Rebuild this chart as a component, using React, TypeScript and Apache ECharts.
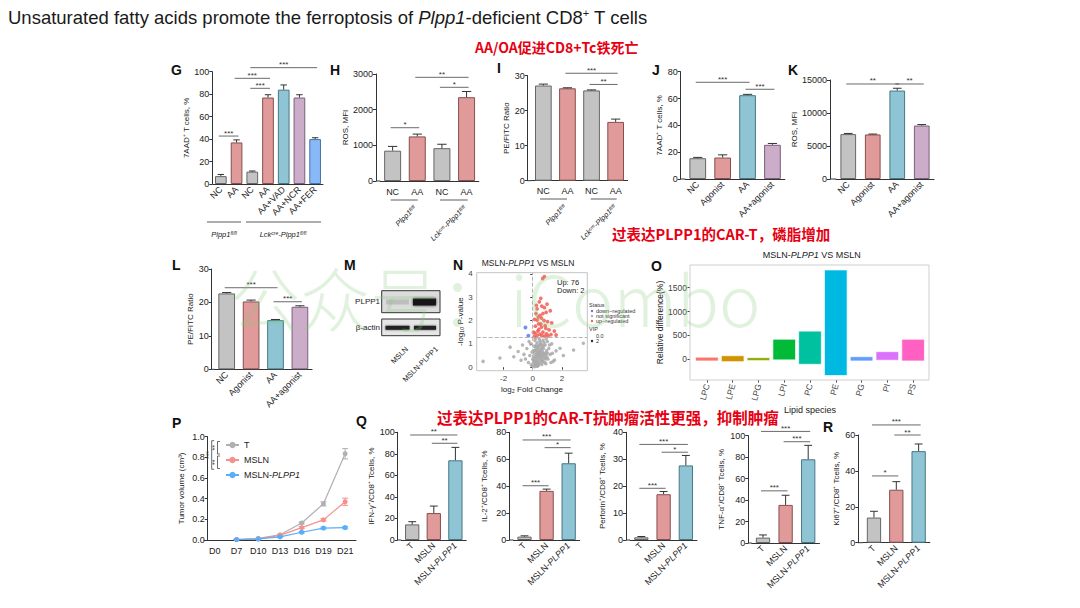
import React, { useEffect, useRef } from 'react';
import * as echarts from 'echarts';

const FONT = '"Liberation Sans", Arial, sans-serif';
const CJK = '"Noto Sans CJK SC", sans-serif';

// ---------------- data ----------------
// G
const gCategories = ['NC', 'AA', 'NC', 'AA', 'AA+VAD', 'AA+NCR', 'AA+FER'];
const gValues = [7, 37, 11, 77, 84, 77, 40];
const gErrors = [1.5, 2.3, 0.6, 2.5, 4.2, 2.5, 1.2];
const gSignif: [number, number, number, string][] = [[0, 1, 42.7, '***'], [2, 3, 85.2, '***'], [1, 3, 94.1, '***'], [2, 6, 103.6, '***']];
// H
const hCategories = ['NC', 'AA', 'NC', 'AA'];
const hValues = [850, 1250, 920, 2350];
const hErrors = [120, 65, 110, 160];
const hSignif: [number, number, number, string][] = [[0, 1, 1494, '*'], [2, 3, 2627, '*'], [1, 3, 2907, '**']];
// I
const iCategories = ['NC', 'AA', 'NC', 'AA'];
const iValues = [27.2, 26.4, 25.8, 16.8];
const iErrors = [0.4, 0.15, 0.15, 0.8];
const iSignif: [number, number, number, string][] = [[2, 3, 27.5, '**'], [1, 3, 30.7, '***']];
// J
const jCategories = ['NC', 'Agonist', 'AA', 'AA+agonist'];
const jValues = [15.5, 16, 62.5, 25.5];
const jErrors = [0.6, 2, 0.6, 1];
const jSignif: [number, number, number, string][] = [[0, 2, 72.1, '***'], [2, 3, 66.9, '***']];
// K
const kCategories = ['NC', 'Agonist', 'AA', 'AA+agonist'];
const kValues = [6800, 6750, 13400, 8100];
const kErrors = [100, 60, 350, 150];
const kSignif: [number, number, number, string][] = [[0, 2, 14394, '**'], [2, 3, 14394, '**']];
// L
const lCategories = ['NC', 'Agonist', 'AA', 'AA+agonist'];
const lValues = [22.7, 20.3, 14.7, 18.7];
const lErrors = [0.25, 0.4, 0.2, 0.3];
const lSignif: [number, number, number, string][] = [[0, 2, 24.4, '***'], [2, 3, 20.2, '***']];
// Q / R
const qCategories = ['T', 'MSLN', 'MSLN-PLPP1'];
const ifnValues = [14.5, 25, 74];
const ifnErrors = [2.5, 6.5, 12];
const ifnSignif: [number, number, number, string][] = [[0, 2, 97.5, '**'], [1, 2, 89.8, '**']];
const il2Values = [2.5, 36.5, 57];
const il2Errors = [0.6, 1.3, 7.5];
const il2Signif: [number, number, number, string][] = [[0, 1, 40.3, '***'], [0, 2, 74.3, '***'], [1, 2, 68.6, '*']];
const prfValues = [1.0, 17, 27.7];
const prfErrors = [0.3, 1, 3.7];
const prfSignif: [number, number, number, string][] = [[0, 1, 19.2, '***'], [0, 2, 35.5, '***'], [1, 2, 32.6, '*']];
const tnfValues = [5, 35.5, 78];
const tnfErrors = [2.5, 9, 13];
const tnfSignif: [number, number, number, string][] = [[0, 1, 48.6, '***'], [0, 2, 104, '***'], [1, 2, 94.4, '***']];
const ki67Values = [14, 29.5, 51];
const ki67Errors = [3.5, 4.5, 4];
const ki67Signif: [number, number, number, string][] = [[0, 1, 37.2, '*'], [0, 2, 65.6, '***'], [1, 2, 60, '**']];
// N volcano
const nNotSig: number[][] = [
  [-3.4, 0.25], [-2.25, 0.39], [-1.55, 0.86], [-1.0, 0.67], [-1.3, 0.45], [-0.8, 0.3], [-0.6, 0.55], [-0.4, 0.8],
  [-0.3, 0.2], [-0.2, 0.5], [-0.15, 1.0], [-0.1, 0.1], [0, 0.05], [0.05, 0.3], [0.1, 0.6], [0.1, 0.9], [0.15, 1.15],
  [0.2, 0.15], [0.2, 0.45], [0.25, 0.75], [0.3, 1.05], [0.3, 0.3], [0.35, 0.55], [0.4, 0.1], [0.4, 0.9], [0.45, 1.2],
  [0.45, 0.4], [0.5, 0.7], [0.55, 0.2], [0.55, 1.0], [0.6, 0.5], [0.65, 0.85], [0.7, 0.25], [0.7, 1.15], [0.75, 0.6],
  [0.8, 0.4], [0.85, 0.95], [0.9, 0.15], [0.95, 0.7], [1.0, 1.1], [1.05, 0.35], [1.1, 0.8], [1.2, 0.55], [1.3, 1.0],
  [1.4, 0.25], [1.5, 0.31], [1.6, 0.7], [1.87, 0.81], [2.1, 0.5], [2.8, 0.74], [3.47, 1.03], [0.0, 0.35], [0.05, 0.7],
  [0.12, 0.02], [0.22, 1.25], [0.28, 0.05], [0.33, 0.85], [0.38, 0.62], [0.42, 0.28], [0.48, 0.95], [0.52, 0.5],
  [0.58, 0.78], [0.62, 0.12], [0.68, 0.42], [0.72, 0.92], [0.78, 1.05], [0.82, 0.2], [0.88, 0.6], [0.92, 1.22],
  [0.97, 0.45], [1.15, 0.95], [1.25, 0.2], [1.35, 0.6], [-0.05, 0.65], [-0.25, 1.1], [-0.5, 0.35], [-0.7, 0.95],
  [0.18, 0.38], [0.26, 0.55], [0.36, 0.18], [0.46, 0.65], [0.56, 0.35], [0.66, 0.68], [0.15, 0.08], [0.25, 0.12],
  [0.32, 0.04], [0.22, 0.22], [0.3, 0.15], [0.38, 0.08], [0.18, 0.25], [0.08, 0.45], [0.14, 0.72], [0.24, 0.95],
  [0.34, 0.42], [0.44, 0.78], [0.54, 0.62], [0.64, 0.3], [0.74, 0.8], [0.84, 0.5], [0.04, 0.18], [0.5, 1.1],
  [0.6, 0.95], [0.4, 0.52], [0.28, 0.68], [0.2, 0.85], [0.1, 0.25], [0.7, 0.55], [0.9, 0.35], [1.0, 0.6]
];
const nUp: number[][] = [
  [0.8, 3.88], [0.68, 3.8], [0.55, 2.95], [0.45, 2.8], [0.62, 2.62], [0.3, 2.5], [0.8, 2.55], [0.22, 2.3], [0.5, 2.22],
  [0.92, 2.35], [1.2, 2.42], [0.6, 2.1], [0.3, 2.02], [0.78, 2.0], [1.02, 1.95], [0.4, 1.86], [1.3, 1.9], [0.18, 1.76],
  [0.6, 1.72], [0.9, 1.66], [1.12, 1.6], [0.35, 1.55], [0.7, 1.5], [1.48, 1.55], [0.15, 1.46], [0.5, 1.42], [0.95, 1.43],
  [1.25, 1.4], [0.3, 1.36], [0.82, 1.33], [0.1, 1.31], [0.62, 1.35], [1.05, 1.34], [0.42, 1.62], [0.25, 2.65], [0.7, 2.3],
  [0.05, 1.5], [1.6, 1.38], [0.55, 1.85], [0.85, 1.78], [0.12, 2.05], [0.98, 2.7], [0.38, 2.15]
];
const nDown: number[][] = [[-0.5, 1.7], [-0.3, 1.35]];
// O lipids
const oCategories = ['LPC', 'LPE', 'LPG', 'LPI', 'PC', 'PE', 'PG', 'PI', 'PS'];
const oHigh = [45, 75, 35, 420, 590, 1870, 55, 160, 420];
const oLow = [-35, -50, -28, -12, -105, -340, -35, -20, -35];
// P tumor volume
const pDays = ['D0', 'D7', 'D10', 'D13', 'D16', 'D19', 'D21'];
const pT = [null, 0.005, 0.015, 0.05, 0.165, 0.35, 0.835];
const pTErr = [0, 0.002, 0.003, 0.006, 0.01, 0.02, 0.05];
const pMSLN = [null, 0.005, 0.012, 0.045, 0.12, 0.195, 0.37];
const pMSLNErr = [0, 0.002, 0.002, 0.005, 0.01, 0.012, 0.035];
const pPLPP1 = [null, 0.003, 0.01, 0.03, 0.075, 0.115, 0.12];
const pPLPP1Err = [0, 0.001, 0.002, 0.004, 0.008, 0.01, 0.012];

// ---------------- styles ----------------
const C = {
  gray: { fill: '#c3c3c3', stroke: '#666666' },
  pink: { fill: '#df9a99', stroke: '#874f4f' },
  teal: { fill: '#8ec4d3', stroke: '#467885' },
  lav: { fill: '#cbadca', stroke: '#7a5f7a' },
  blue: { fill: '#88b8f5', stroke: '#4873aa' },
};
const oColors = ['#F8766D', '#D39200', '#93AA00', '#00BA38', '#00C19F', '#00B9E3', '#619CFF', '#DB72FB', '#FF61C3'];
const plain = (v: number) => String(v);

const barPanels: any[] = [
  { cats: gCategories, vals: gValues, errs: gErrors, sig: gSignif, colors: [C.gray, C.pink, C.gray, C.pink, C.teal, C.lav, C.blue], axisX: 212.3, left: 213, width: 110, top: 71.7, height: 112.3, max: 100, interval: 20, name: '7AAD⁺ T cells, %', nameX: 186, rotate: 45, barWidth: 11.7, fs: 9 },
  { cats: hCategories, vals: hValues, errs: hErrors, sig: hSignif, colors: [C.gray, C.pink, C.gray, C.pink], axisX: 376, left: 380.3, width: 98.6, top: 74, height: 107, max: 3000, interval: 1000, name: 'ROS, MFI', nameX: 349, rotate: 0, barWidth: 17, fs: 9 },
  { cats: iCategories, vals: iValues, errs: iErrors, sig: iSignif, colors: [C.gray, C.pink, C.gray, C.pink], axisX: 527.7, left: 531.3, width: 96.4, top: 75.7, height: 105, max: 30, interval: 10, name: 'PE/FITC Ratio', nameX: 506, rotate: 0, barWidth: 16.7, fs: 9 },
  { cats: jCategories, vals: jValues, errs: jErrors, sig: jSignif, colors: [C.gray, C.pink, C.teal, C.lav], axisX: 680.7, left: 685.3, width: 99.6, top: 71.7, height: 107.3, max: 80, interval: 20, name: '7AAD⁺ T cells, %', nameX: 661.7, rotate: 45, barWidth: 16.7, fs: 9 },
  { cats: kCategories, vals: kValues, errs: kErrors, sig: kSignif, colors: [C.gray, C.pink, C.teal, C.lav], axisX: 830, left: 836, width: 98, top: 80, height: 99, max: 15000, interval: 5000, name: 'ROS, MFI', nameX: 798.3, rotate: 45, barWidth: 15.7, fs: 9 },
  { cats: lCategories, vals: lValues, errs: lErrors, sig: lSignif, colors: [C.gray, C.pink, C.teal, C.lav], axisX: 211.7, left: 214.5, width: 97.6, top: 269, height: 100.3, max: 30, interval: 10, name: 'PE/FITC Ratio', nameX: 196.7, rotate: 45, barWidth: 16.7, fs: 9 },
  { cats: qCategories, vals: ifnValues, errs: ifnErrors, sig: ifnSignif, colors: [C.gray, C.pink, C.teal], axisX: 397.7, left: 401.4, width: 64.8, top: 432.3, height: 107.7, max: 100, interval: 20, name: 'IFN-γ⁺/CD8⁺ Tcells, %', nameX: 372.3, rotate: 45, barWidth: 14.3, fs: 9 },
  { cats: qCategories, vals: il2Values, errs: il2Errors, sig: il2Signif, colors: [C.gray, C.pink, C.teal], axisX: 509.3, left: 513.5, width: 66.2, top: 432.3, height: 107.7, max: 80, interval: 20, name: 'IL-2⁺/CD8⁺ Tcells, %', nameX: 484, rotate: 45, barWidth: 14.3, fs: 9 },
  { cats: qCategories, vals: prfValues, errs: prfErrors, sig: prfSignif, colors: [C.gray, C.pink, C.teal], axisX: 626, left: 630.2, width: 66.8, top: 432.3, height: 107.7, max: 40, interval: 10, name: 'Perforin⁺/CD8⁺ Tcells, %', nameX: 602.7, rotate: 45, barWidth: 14.3, fs: 9 },
  { cats: qCategories, vals: tnfValues, errs: tnfErrors, sig: tnfSignif, colors: [C.gray, C.pink, C.teal], axisX: 748.3, left: 751.7, width: 67.8, top: 435.7, height: 107.3, max: 100, interval: 20, name: 'TNF-α⁺/CD8⁺ Tcells, %', nameX: 721.7, rotate: 45, barWidth: 14.3, fs: 9 },
  { cats: qCategories, vals: ki67Values, errs: ki67Errors, sig: ki67Signif, colors: [C.gray, C.pink, C.teal], axisX: 858.3, left: 862.8, width: 67, top: 435, height: 107.7, max: 60, interval: 20, name: 'Ki67⁺/CD8⁺ Tcells, %', nameX: 836.7, rotate: 45, barWidth: 14.3, fs: 9 },
];

function errRender(cap: number, both: boolean, color: string) {
  return (params: any, api: any) => {
    const x = api.value(0), v = api.value(1), e = api.value(2);
    if (v == null || isNaN(v)) return null;
    const top = api.coord([x, v + e]);
    const bot = api.coord([x, both ? v - e : v]);
    const h = cap / 2;
    const st = { stroke: color, lineWidth: 1 };
    const ch: any[] = [
      { type: 'line', shape: { x1: top[0], y1: top[1], x2: bot[0], y2: bot[1] }, style: st },
      { type: 'line', shape: { x1: top[0] - h, y1: top[1], x2: top[0] + h, y2: top[1] }, style: st },
    ];
    if (both) ch.push({ type: 'line', shape: { x1: bot[0] - h, y1: bot[1], x2: bot[0] + h, y2: bot[1] }, style: st });
    return { type: 'group', children: ch };
  };
}

function sigRender(labels: string[]) {
  return (params: any, api: any) => {
    const a = api.coord([api.value(0), api.value(1)]);
    const b = api.coord([api.value(2), api.value(1)]);
    return {
      type: 'group',
      children: [
        { type: 'line', shape: { x1: a[0] - 2, y1: a[1], x2: b[0] + 2, y2: b[1] }, style: { stroke: '#444', lineWidth: 0.8 } },
        { type: 'text', x: (a[0] + b[0]) / 2, y: a[1] + 1, style: { text: labels[params.dataIndex], fontSize: 8, fontFamily: FONT, fill: '#333', align: 'center', verticalAlign: 'bottom' } },
      ],
    };
  };
}

const richLabel = (fs: number) => ({
  formatter: (v: string) => (v === 'MSLN-PLPP1' ? 'MSLN-{i|PLPP1}' : v),
  rich: { i: { fontStyle: 'italic', fontSize: fs, fontFamily: FONT, color: '#222' } },
});

function buildOption() {
  const o: any = {
    animation: false,
    backgroundColor: '#ffffff',
    textStyle: { fontFamily: FONT },
    grid: [], xAxis: [], yAxis: [], series: [], graphic: [],
  };

  barPanels.forEach((p) => {
    const gi = o.grid.length;
    o.grid.push({ left: p.left, top: p.top, width: p.width, height: p.height });
    o.xAxis.push({
      type: 'category', gridIndex: gi, data: p.cats,
      axisLine: { lineStyle: { color: '#333', width: 1 } },
      axisTick: { alignWithLabel: true, length: 3, lineStyle: { color: '#333' } },
      axisLabel: { interval: 0, rotate: p.rotate, fontSize: p.fs, color: '#222', fontFamily: FONT, margin: p.rotate ? 4 : 6, ...richLabel(p.fs) },
      splitLine: { show: false },
    });
    o.yAxis.push({
      type: 'value', gridIndex: gi, min: 0, max: p.max, interval: p.interval, offset: p.left - p.axisX,
      axisLine: { show: true, lineStyle: { color: '#333', width: 1 } },
      axisTick: { show: true, length: 3, lineStyle: { color: '#333' } },
      axisLabel: { fontSize: p.fs, color: '#222', margin: 3, fontFamily: FONT, formatter: plain },
      splitLine: { show: false },
      name: p.name, nameLocation: 'middle', nameGap: p.axisX - p.nameX - 4,
      nameTextStyle: { fontSize: 8, color: '#222', fontFamily: FONT },
    });
    o.series.push({
      type: 'bar', xAxisIndex: gi, yAxisIndex: gi, barWidth: p.barWidth, silent: true,
      data: p.vals.map((v: number, i: number) => ({ value: v, itemStyle: { color: p.colors[i].fill, borderColor: p.colors[i].stroke, borderWidth: 1 } })),
    });
    o.series.push({
      type: 'custom', xAxisIndex: gi, yAxisIndex: gi, z: 3, silent: true,
      renderItem: errRender(p.barWidth * 0.55, false, '#333'),
      encode: { x: 0, y: 1 },
      data: p.vals.map((v: number, i: number) => [i, v, p.errs[i]]),
    });
    o.series.push({
      type: 'custom', xAxisIndex: gi, yAxisIndex: gi, z: 4, silent: true, clip: false,
      renderItem: sigRender(p.sig.map((s: any) => s[3])),
      encode: { x: 0, y: 1 },
      data: p.sig.map((s: any) => [s[0], s[2], s[1]]),
    });
    if (p.left - p.axisX > 0.5) {
      const y0 = p.top + p.height;
      o.graphic.push({ type: 'line', shape: { x1: p.axisX, y1: y0, x2: p.left, y2: y0 }, style: { stroke: '#333', lineWidth: 1 } });
    }
  });

  // ---------- N volcano ----------
  const nG = o.grid.length;
  o.grid.push({ left: 476.7, top: 272.7, width: 110.6, height: 98, show: true, borderColor: '#c4c4c4', borderWidth: 1, backgroundColor: '#fff' });
  o.xAxis.push({
    type: 'value', gridIndex: nG, min: -3.84, max: 3.74,
    axisLine: { show: false }, splitLine: { show: false },
    axisTick: { show: true, length: 2.5, customValues: [-2, 0, 2], lineStyle: { color: '#444' } },
    axisLabel: { customValues: [-2, 0, 2], fontSize: 8, color: '#444', margin: 4 },
    name: 'log₂ Fold Change', nameLocation: 'middle', nameGap: 15, nameTextStyle: { fontSize: 8, color: '#222' },
  });
  o.yAxis.push({
    type: 'value', gridIndex: nG, min: -0.15, max: 4.05,
    axisLine: { show: false }, splitLine: { show: false },
    axisTick: { show: true, length: 2.5, customValues: [0, 1, 2, 3, 4], lineStyle: { color: '#444' } },
    axisLabel: { customValues: [0, 1, 2, 3, 4], fontSize: 8, color: '#444', margin: 4 },
    name: '-log₁₀ P-value', nameLocation: 'middle', nameGap: 12, nameTextStyle: { fontSize: 8, color: '#222' },
  });
  o.series.push({
    type: 'scatter', xAxisIndex: nG, yAxisIndex: nG, symbolSize: 3.5, silent: true,
    itemStyle: { color: '#a9a9a9', opacity: 0.85 }, data: nNotSig,
    markLine: { silent: true, symbol: 'none', label: { show: false }, lineStyle: { type: 'dashed', color: '#b5b5b5', width: 1 }, data: [{ yAxis: 1.3 }, { xAxis: 0 }] },
  });
  o.series.push({ type: 'scatter', xAxisIndex: nG, yAxisIndex: nG, symbolSize: 3.8, silent: true, itemStyle: { color: '#f25c54', opacity: 0.85 }, data: nUp });
  o.series.push({ type: 'scatter', xAxisIndex: nG, yAxisIndex: nG, symbolSize: 4, silent: true, itemStyle: { color: '#4f74f2' }, data: nDown });

  // ---------- O lipids ----------
  const oG = o.grid.length;
  o.grid.push({ left: 694, top: 265, width: 232, height: 115 });
  o.xAxis.push({
    type: 'category', gridIndex: oG, data: oCategories,
    axisLine: { show: false, onZero: false },
    axisTick: { show: true, alignWithLabel: true, length: 2.5, lineStyle: { color: '#444' } },
    axisLabel: { interval: 0, rotate: 75, fontSize: 8.5, color: '#444', margin: 4 },
    name: 'Lipid species', nameLocation: 'middle', nameGap: 21, nameTextStyle: { fontSize: 9, color: '#222' },
  });
  o.yAxis.push({
    type: 'value', gridIndex: oG, min: -433, max: 1973, offset: 4,
    axisLine: { show: false }, splitLine: { show: false },
    axisTick: { show: true, length: 2.5, customValues: [0, 500, 1000, 1500], lineStyle: { color: '#444' } },
    axisLabel: { customValues: [0, 500, 1000, 1500], fontSize: 8.5, color: '#444', margin: 3, formatter: plain },
    name: 'Relative difference(%)', nameLocation: 'middle', nameGap: 22, nameTextStyle: { fontSize: 8.5, color: '#222' },
  });
  o.series.push({
    type: 'custom', xAxisIndex: oG, yAxisIndex: oG, silent: true,
    encode: { x: 0, y: [1, 2] },
    data: oCategories.map((c, i) => [i, oLow[i], oHigh[i]]),
    renderItem: (params: any, api: any) => {
      const i = api.value(0);
      const lo = api.coord([i, api.value(1)]);
      const hi = api.coord([i, api.value(2)]);
      const w = api.size([1, 0])[0] * 0.88;
      return { type: 'rect', shape: { x: lo[0] - w / 2, y: hi[1], width: w, height: lo[1] - hi[1] }, style: { fill: oColors[params.dataIndex], stroke: 'rgba(255,255,255,0.7)', lineWidth: 1 } };
    },
  });

  // ---------- P tumor volume ----------
  const pG = o.grid.length;
  o.grid.push({ left: 204, top: 436.7, width: 152, height: 103.3 });
  o.xAxis.push({
    type: 'category', gridIndex: pG, data: pDays,
    axisLine: { lineStyle: { color: '#333' } },
    axisTick: { alignWithLabel: true, length: 3, lineStyle: { color: '#333' } },
    axisLabel: { interval: 0, fontSize: 9, color: '#222', margin: 6 },
  });
  o.yAxis.push({
    type: 'value', gridIndex: pG, min: 0, max: 1, interval: 0.2, offset: -3.7,
    axisLine: { show: true, lineStyle: { color: '#333' } },
    axisTick: { show: true, length: 3, lineStyle: { color: '#333' } },
    axisLabel: { fontSize: 9, color: '#222', margin: 3, formatter: (v: number) => v.toFixed(1) },
    splitLine: { show: false },
    name: 'Tumor volume (cm³)', nameLocation: 'middle', nameGap: 22, nameTextStyle: { fontSize: 8, color: '#222' },
  });
  const pSeries = [
    { name: 'T', data: pT, err: pTErr, color: '#b0b0b0' },
    { name: 'MSLN', data: pMSLN, err: pMSLNErr, color: '#f5918c' },
    { name: 'MSLN-PLPP1', data: pPLPP1, err: pPLPP1Err, color: '#58aefc' },
  ];
  pSeries.forEach((s) => {
    o.series.push({
      type: 'line', name: s.name, xAxisIndex: pG, yAxisIndex: pG, data: s.data, symbol: 'circle', symbolSize: 5,
      itemStyle: { color: s.color }, lineStyle: { color: s.color, width: 1.2 }, silent: true,
    });
    o.series.push({
      type: 'custom', xAxisIndex: pG, yAxisIndex: pG, silent: true, z: 3,
      renderItem: errRender(6, true, s.color), encode: { x: 0, y: 1 },
      data: s.data.map((v, i) => [i, v == null ? NaN : v, s.err[i]]).filter((d) => !isNaN(d[1] as number)),
    });
  });
  o.legend = {
    data: ['T', 'MSLN', 'MSLN-PLPP1'], left: 220, top: 435.5, orient: 'vertical', itemGap: 6, itemWidth: 13, itemHeight: 8,
    textStyle: { fontSize: 9, color: '#222', fontFamily: FONT, rich: { i: { fontStyle: 'italic', fontSize: 9, fontFamily: FONT, color: '#222' } } },
    formatter: (n: string) => (n === 'MSLN-PLPP1' ? 'MSLN-{i|PLPP1}' : n),
    selectedMode: false,
  };

  // ---------- graphics ----------
  const G = o.graphic;
  G.push({
    type: 'text', x: 8, y: 17,
    style: {
      text: 'Unsaturated fatty acids promote the ferroptosis of {i|Plpp1}-deficient CD8{s|+} T cells',
      fontSize: 18.5, fontFamily: FONT, fill: '#1a1a1a', verticalAlign: 'middle',
      rich: { i: { fontStyle: 'italic', fontSize: 18.5, fontFamily: FONT, fill: '#1a1a1a' }, s: { fontSize: 11, fontFamily: FONT, fill: '#1a1a1a', verticalAlign: 'top' } },
    },
  });
  const red = (text: string, x: number, y: number, fs: number) => G.push({ type: 'text', x, y, style: { text, fontSize: fs, fontWeight: 'bold', fontFamily: CJK, fill: '#e60012', verticalAlign: 'middle' } });
  red('AA/OA促进CD8+Tc铁死亡', 475, 47, 14);
  red('过表达PLPP1的CAR-T，磷脂增加', 612, 233, 14.5);
  red('过表达PLPP1的CAR-T抗肿瘤活性更强，抑制肿瘤', 437, 417, 15.5);

  const letters: [string, number, number][] = [
    ['G', 171, 70], ['H', 330, 70], ['I', 497, 68], ['J', 652, 70], ['K', 788, 70], ['L', 172, 265], ['M', 344, 265],
    ['N', 453, 265], ['O', 651, 266], ['P', 172, 423], ['Q', 356, 421], ['R', 823, 427],
  ];
  letters.forEach(([t, x, y]) => G.push({ type: 'text', x, y, style: { text: t, fontSize: 14, fontWeight: 'bold', fontFamily: FONT, fill: '#111', verticalAlign: 'middle' } }));

  const itRich = {
    it: { fontStyle: 'italic', fontSize: 7.5, fontFamily: FONT, fill: '#222' },
    sup: { fontStyle: 'italic', fontSize: 5, fontFamily: FONT, fill: '#222', verticalAlign: 'top' },
  };
  const plppLbl = '{it|Plpp1}{sup|fl/fl}';
  const lckLbl = '{it|Lck}{sup|cre}{it|-Plpp1}{sup|fl/fl}';
  const seg = (x1: number, x2: number, y: number) => G.push({ type: 'line', shape: { x1, y1: y, x2, y2: y }, style: { stroke: '#333', lineWidth: 0.8 } });
  // G group labels
  seg(207, 241, 222); seg(246, 321, 222);
  G.push({ type: 'text', x: 224, y: 234, style: { text: plppLbl, align: 'center', verticalAlign: 'middle', rich: itRich } });
  G.push({ type: 'text', x: 283, y: 234, style: { text: lckLbl, align: 'center', verticalAlign: 'middle', rich: itRich } });
  // H group labels
  seg(390.7, 417.7, 200); seg(440, 467.7, 200);
  G.push({ type: 'text', x: 412, y: 204, rotation: Math.PI / 4, style: { text: plppLbl, align: 'right', verticalAlign: 'top', rich: itRich } });
  G.push({ type: 'text', x: 462, y: 204, rotation: Math.PI / 4, style: { text: lckLbl, align: 'right', verticalAlign: 'top', rich: itRich } });
  // I group labels
  seg(540, 567, 199); seg(590.7, 616.7, 199);
  G.push({ type: 'text', x: 562, y: 203, rotation: Math.PI / 4, style: { text: plppLbl, align: 'right', verticalAlign: 'top', rich: itRich } });
  G.push({ type: 'text', x: 612, y: 203, rotation: Math.PI / 4, style: { text: lckLbl, align: 'right', verticalAlign: 'top', rich: itRich } });

  // M western blot
  G.push({ type: 'rect', shape: { x: 381.7, y: 290.7, width: 58.3, height: 22 }, style: { fill: '#dcdcdc', stroke: '#333', lineWidth: 1 } });
  G.push({ type: 'rect', shape: { x: 386, y: 299.5, width: 23, height: 5 }, style: { fill: 'rgba(0,0,0,0.12)', shadowBlur: 3, shadowColor: 'rgba(0,0,0,0.2)' } });
  G.push({ type: 'rect', shape: { x: 413, y: 298.5, width: 23, height: 7 }, style: { fill: '#151515', shadowBlur: 3, shadowColor: 'rgba(0,0,0,0.8)' } });
  G.push({ type: 'rect', shape: { x: 381.7, y: 319, width: 58.3, height: 16.7 }, style: { fill: '#e6e6e6', stroke: '#333', lineWidth: 1 } });
  G.push({ type: 'rect', shape: { x: 385.5, y: 325.8, width: 24, height: 4 }, style: { fill: '#222', shadowBlur: 2, shadowColor: 'rgba(0,0,0,0.6)' } });
  G.push({ type: 'rect', shape: { x: 414, y: 325.8, width: 22, height: 4 }, style: { fill: '#222', shadowBlur: 2, shadowColor: 'rgba(0,0,0,0.6)' } });
  G.push({ type: 'text', x: 380, y: 301.7, style: { text: 'PLPP1', fontSize: 8, fontFamily: FONT, fill: '#222', align: 'right', verticalAlign: 'middle' } });
  G.push({ type: 'text', x: 380, y: 327.5, style: { text: 'β-actin', fontSize: 8, fontFamily: FONT, fill: '#222', align: 'right', verticalAlign: 'middle' } });
  G.push({ type: 'text', x: 404, y: 345, rotation: Math.PI / 4, style: { text: 'MSLN', fontSize: 7.5, fontFamily: FONT, fill: '#222', align: 'right', verticalAlign: 'top' } });
  G.push({ type: 'text', x: 434, y: 345, rotation: Math.PI / 4, style: { text: 'MSLN-PLPP1', fontSize: 7.5, fontFamily: FONT, fill: '#222', align: 'right', verticalAlign: 'top' } });

  // N annotations
  G.push({ type: 'text', x: 528, y: 263, style: { text: 'MSLN-{i|PLPP1} VS MSLN', fontSize: 8.5, fontFamily: FONT, fill: '#222', align: 'center', verticalAlign: 'middle', rich: { i: { fontStyle: 'italic', fontSize: 8.5, fontFamily: FONT, fill: '#222' } } } });
  G.push({ type: 'text', x: 557, y: 278, style: { text: 'Up: 76\nDown: 2', fontSize: 7.5, lineHeight: 8.5, fontFamily: FONT, fill: '#222' } });
  const lg = (t: string, y: number, x = 589) => G.push({ type: 'text', x, y, style: { text: t, fontSize: 5.5, fontFamily: FONT, fill: '#333', verticalAlign: 'middle' } });
  lg('Status', 305);
  [['down−regulated', '#4f74f2', 311], ['not significant', '#a9a9a9', 316], ['up−regulated', '#f25c54', 321]].forEach(([t, c, y]: any) => {
    G.push({ type: 'circle', shape: { cx: 592, cy: y, r: 1.2 }, style: { fill: c } });
    lg(t, y, 596);
  });
  lg('VIP', 329);
  G.push({ type: 'circle', shape: { cx: 592, cy: 336, r: 0.5 }, style: { fill: '#222' } });
  lg('0.0', 336, 596);
  G.push({ type: 'circle', shape: { cx: 592, cy: 341, r: 1.2 }, style: { fill: '#222' } });
  lg('2', 341, 596);

  // O title + frame
  G.push({ type: 'text', x: 811.7, y: 255, style: { text: 'MSLN-{i|PLPP1} VS MSLN', fontSize: 9, fontFamily: FONT, fill: '#222', align: 'center', verticalAlign: 'middle', rich: { i: { fontStyle: 'italic', fontSize: 9, fontFamily: FONT, fill: '#222' } } } });
  G.push({ type: 'rect', shape: { x: 690, y: 265, width: 239, height: 115 }, style: { fill: 'none', stroke: '#cfcfcf', lineWidth: 1 }, z: 10 });

  // P legend significance brackets
  const vb = (x: number, y1: number, y2: number) => {
    G.push({ type: 'polyline', shape: { points: [[x + 2.5, y1], [x, y1], [x, y2], [x + 2.5, y2]] }, style: { stroke: '#444', fill: 'none', lineWidth: 0.8 } });
  };
  vb(211.7, 440.7, 469.3); vb(217.5, 441.5, 454); vb(217.5, 456, 468.5);
  const vt = (t: string, x: number, y: number) => G.push({ type: 'text', x, y, rotation: Math.PI / 2, z: 20, style: { text: t, fontSize: 7, fontFamily: FONT, fill: '#333', align: 'center', verticalAlign: 'middle' } });
  vt('***', 208.5, 455); vt('**', 214.8, 447.7); vt('**', 214.8, 462.2);

  // watermark
  G.push({ type: 'text', x: 230, y: 296, z: 100, silent: true, style: { text: '公众号：iCombo', fontSize: 70, fontWeight: 300, fontFamily: CJK, fill: 'rgba(130,205,120,0.25)', verticalAlign: 'middle' } });

  return o;
}

export default function App() {
  const ref = useRef<HTMLDivElement>(null);
  useEffect(() => {
    const chart = echarts.init(ref.current!, null, { renderer: 'svg', width: 1080, height: 608 });
    chart.setOption(buildOption());
    return () => chart.dispose();
  }, []);
  return <div ref={ref} style={{ position: 'fixed', left: 0, top: 0, width: 1080, height: 608, background: '#fff' }} />;
}
